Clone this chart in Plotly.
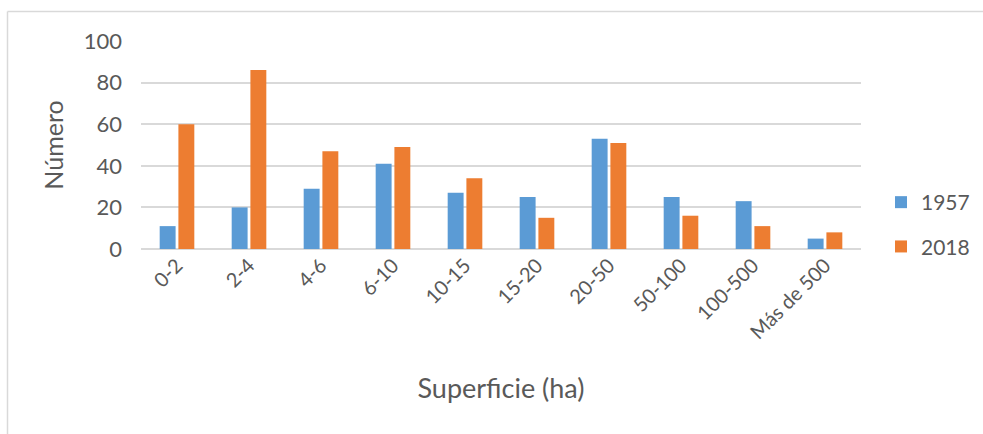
import plotly.graph_objects as go

categories = ["0-2", "2-4", "4-6", "6-10", "10-15", "15-20", "20-50",
              "50-100", "100-500", "Más de 500"]
values_1957 = [11, 20, 29, 41, 27, 25, 53, 25, 23, 5]
values_2018 = [60, 86, 47, 49, 34, 15, 51, 16, 11, 8]
y_ticks = [0, 20, 40, 60, 80, 100]

W, H = 983, 434
L, R, T, B = 141, 122, 41, 185
pw, ph = W - L - R, H - T - B

FONT = "Lato"
TXT = "#595959"
GRID = "#d9d9d9"


def px_x(x):
    return (x - L) / pw


def px_y(y):
    return (H - B - y) / ph


fig = go.Figure()
fig.add_trace(go.Bar(x=categories, y=values_1957, name="1957",
                     marker=dict(color="#5b9bd5", line=dict(width=0)),
                     legendgroup="a"))
fig.add_trace(go.Bar(x=categories, y=values_2018, name="2018",
                     marker=dict(color="#ed7d31", line=dict(width=0)),
                     legendgroup="b"))

fig.update_layout(
    width=W, height=H,
    margin=dict(l=L, r=R, t=T, b=B, pad=0, autoexpand=False),
    paper_bgcolor="white", plot_bgcolor="white",
    font=dict(family=FONT, color=TXT, size=20),
    barmode="group", bargap=0.48, bargroupgap=0.15,
    showlegend=True,
    legend=dict(x=px_x(881), xanchor="left", y=px_y(182), yanchor="top",
                font=dict(size=21, color=TXT), tracegroupgap=14,
                bgcolor="rgba(0,0,0,0)", borderwidth=0),
    xaxis=dict(tickangle=-45, showgrid=False, zeroline=False,
               showline=False, ticks="",
               tickfont=dict(size=20, color=TXT),
               title=dict(text="Superficie (ha)", standoff=36,
                          font=dict(size=27, color=TXT))),
    yaxis=dict(range=[0, 100], tickvals=y_ticks, showgrid=True,
               gridcolor=GRID, gridwidth=1.5, zeroline=True,
               zerolinecolor=GRID, zerolinewidth=1.5, showline=False,
               ticks="", ticklabelstandoff=18,
               tickfont=dict(size=22, color=TXT),
               title=dict(text="Número", standoff=12,
                          font=dict(size=25, color=TXT))),
    shapes=[
        dict(type="line", xref="paper", yref="paper",
             x0=px_x(7.5), x1=px_x(7.5), y0=px_y(11.5), y1=px_y(434),
             line=dict(color=GRID, width=1.5)),
        dict(type="line", xref="paper", yref="paper",
             x0=px_x(7.5), x1=px_x(983), y0=px_y(11.5), y1=px_y(11.5),
             line=dict(color=GRID, width=1.5)),
    ],
)

fig.write_html("out.html")
